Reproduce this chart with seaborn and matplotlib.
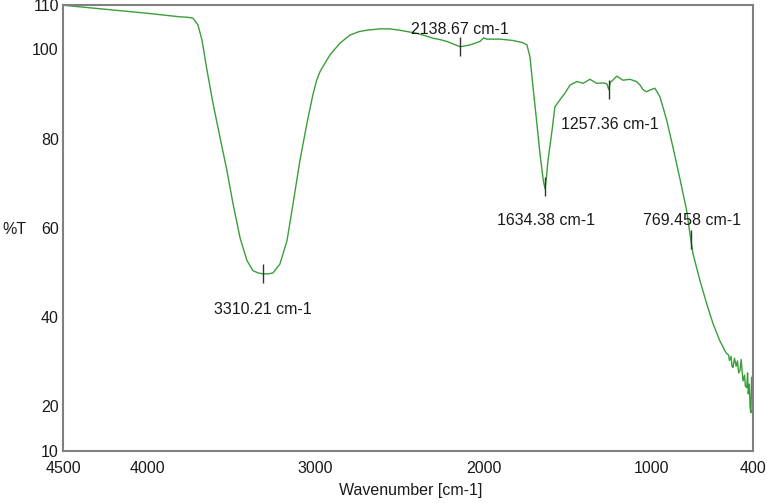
import numpy as np
import pandas as pd
import matplotlib
matplotlib.use("Agg")
import matplotlib.pyplot as plt
import seaborn as sns

# spectrum (wavenumber, %T)
wavenumber = [4500, 4250, 4000, 3805, 3760, 3728, 3698, 3674, 3644, 3609, 3567, 3526,
              3490, 3448, 3407, 3371, 3340, 3312, 3280, 3252, 3211, 3169, 3133, 3092,
              3050, 3014, 2993, 2973, 2913, 2854, 2795, 2740, 2695, 2616, 2560, 2498,
              2398, 2350, 2301, 2260, 2220, 2180, 2141, 2110, 2082, 2050, 2022, 2000,
              1982, 1903, 1826, 1767, 1743, 1725, 1707, 1686, 1666, 1646, 1636, 1628,
              1618, 1594, 1577, 1547, 1517, 1487, 1446, 1409, 1369, 1328, 1290, 1268,
              1257, 1248, 1233, 1209, 1173, 1131, 1092, 1071, 1054, 1032, 1012, 983,
              953, 913, 875, 834, 794, 775, 757, 715, 675, 637, 597, 567, 560, 545,
              540, 530, 525, 519, 510, 500, 492, 485, 477, 470, 465, 459, 450, 445,
              437, 432, 428, 422, 417, 412, 408, 405, 402, 400]
transmittance = [109.9, 109.0, 108.1, 107.3, 107.2, 107.0, 105.5, 102.1, 95.3, 88.0, 80.3, 72.9,
                 65.5, 57.8, 52.7, 50.4, 49.9, 49.7, 49.7, 49.9, 51.9, 57.1, 65.4, 75.1,
                 83.5, 90.0, 93.0, 95.0, 98.8, 101.4, 103.2, 104.0, 104.3, 104.6, 104.6, 104.3,
                 103.6, 103.1, 102.5, 102.2, 101.8, 101.2, 100.6, 100.8, 101.0, 101.4, 101.8, 102.6,
                 102.3, 102.3, 102.0, 101.5, 101.0, 98.3, 91.6, 84.1, 76.7, 70.7, 68.8, 71.0,
                 75.1, 81.8, 87.1, 88.7, 90.2, 92.0, 92.8, 92.4, 93.3, 92.4, 92.5, 92.3,
                 91.0, 92.6, 93.1, 94.0, 93.1, 93.3, 92.8, 92.0, 91.0, 90.5, 90.9, 91.3,
                 89.4, 84.2, 78.0, 71.0, 63.9, 58.8, 54.3, 48.2, 43.0, 38.5, 34.7, 32.5, 32.0, 31.5,
                 30.3, 31.2, 29.0, 28.7, 30.8, 29.0, 30.2, 27.5, 28.0, 30.5, 28.0, 25.7, 27.0, 24.5,
                 24.2, 27.5, 22.8, 25.0, 19.7, 18.6, 26.5, 22.0, 27.0, 23.0]

peaks = [3310.21, 2138.67, 1634.38, 1257.36, 769.458]
label_dy = [-8.0, 3.9, -7.5, -7.8, 4.3]   # label offset from curve, in %T
label_dx = [0, 0, -6, -6, -5]

df = pd.DataFrame({"Wavenumber": wavenumber, "T": transmittance})

sns.set_style("white")
plt.rcParams["font.family"] = ["Liberation Sans", "DejaVu Sans"]

fig = plt.figure(figsize=(7.67, 5.03), dpi=100)
ax = fig.add_axes([0.0821, 0.1034, 0.8996, 0.8871])

sns.lineplot(data=df, x="Wavenumber", y="T", ax=ax, color="#3a9e3a", linewidth=1.0,
             sort=False, estimator=None)

# peak markers and labels
wn_sorted = np.array(wavenumber[::-1], dtype=float)
t_sorted = np.array(transmittance[::-1], dtype=float)
for p, dy, dx in zip(peaks, label_dy, label_dx):
    yv = np.interp(p, wn_sorted, t_sorted)
    ax.vlines(p, yv - 2.1, yv + 2.1, color="#333333", linewidth=1.0)
    ax.text(p + dx, yv + dy, f"{p:g} cm-1", ha="center", va="center",
            fontsize=11.5, color="#1a1a1a")

ax.set_xlim(4500, 400)
ax.set_ylim(10, 110)
ax.set_xticks([4500, 4000, 3000, 2000, 1000, 400])
ax.set_xticks([3500, 2500, 1500, 500], minor=True)
ax.set_yticks([10, 20, 40, 60, 80, 100, 110])
ax.set_yticks([30, 50, 70, 90], minor=True)
ax.tick_params(which="both", direction="in", color="#808080", width=1.2,
               labelsize=11.5, labelcolor="#1a1a1a")
ax.tick_params(which="major", length=8)
ax.tick_params(which="minor", length=5)
ax.tick_params(axis="x", pad=7)
ax.tick_params(axis="y", pad=3)

for s in ax.spines.values():
    s.set_color("#808080")
    s.set_linewidth(1.5)

ax.set_xlabel("Wavenumber [cm-1]", fontsize=11.5, color="#1a1a1a")
ax.xaxis.set_label_coords(0.504, -0.072)
ax.set_ylabel("%T", rotation=0, fontsize=11.5, color="#1a1a1a")
ax.yaxis.set_label_coords(-0.07, 0.48)

fig.savefig("out.png", dpi=100)
